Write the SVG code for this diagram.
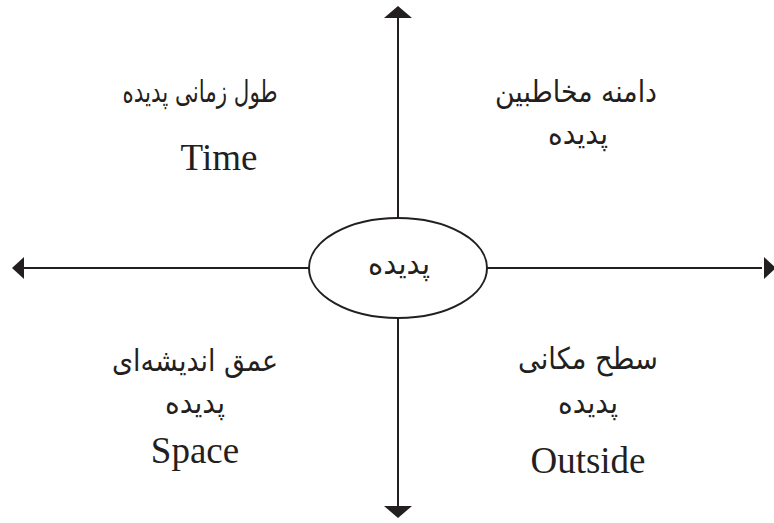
<svg xmlns="http://www.w3.org/2000/svg" width="774" height="523" viewBox="0 0 774 523">
<style>
.ax{stroke:#231f20;stroke-width:2;fill:none}
.fa{font-family:"DejaVu Sans",sans-serif;font-size:30px;fill:#231f20;text-anchor:middle}
.en{font-family:"Liberation Serif",serif;font-size:37px;fill:#231f20;text-anchor:middle}
.hd{fill:#231f20}
</style>
<rect width="774" height="523" fill="#fff"/>
<g id="connectors">
<line class="ax" x1="398" y1="16" x2="398" y2="218"/>
<line class="ax" x1="398" y1="318" x2="398" y2="510"/>
<line class="ax" x1="24" y1="268" x2="309" y2="268"/>
<line class="ax" x1="487" y1="268" x2="762" y2="268"/>
<polygon class="hd" points="398,6 412,18 384,18"/>
<polygon class="hd" points="398,518 412,506 384,506"/>
<polygon class="hd" points="12,268 24,257 24,279"/>
<polygon class="hd" points="776,268 764,257 764,279"/>
</g>
<g id="center">
<ellipse cx="398" cy="268" rx="89" ry="50" fill="#fff" stroke="#231f20" stroke-width="2"/>
<text class="fa" x="399" y="274" textLength="62" lengthAdjust="spacingAndGlyphs">پدیده</text>
</g>
<g id="time">
<text class="fa" x="200" y="102" textLength="155" lengthAdjust="spacingAndGlyphs">طول زمانی پدیده</text>
<text class="en" x="219" y="170">Time</text>
</g>
<g id="audience">
<text class="fa" x="576" y="102" textLength="162" lengthAdjust="spacingAndGlyphs">دامنه مخاطبین</text>
<text class="fa" x="578" y="144" textLength="60" lengthAdjust="spacingAndGlyphs">پدیده</text>
</g>
<g id="space">
<text class="fa" x="195" y="371" textLength="166" lengthAdjust="spacingAndGlyphs">عمق اندیشه‌ای</text>
<text class="fa" x="195" y="413" textLength="60" lengthAdjust="spacingAndGlyphs">پدیده</text>
<text class="en" x="195" y="463">Space</text>
</g>
<g id="outside">
<text class="fa" x="588" y="369" textLength="140" lengthAdjust="spacingAndGlyphs">سطح مکانی</text>
<text class="fa" x="588" y="413" textLength="60" lengthAdjust="spacingAndGlyphs">پدیده</text>
<text class="en" x="588" y="473">Outside</text>
</g>
</svg>
